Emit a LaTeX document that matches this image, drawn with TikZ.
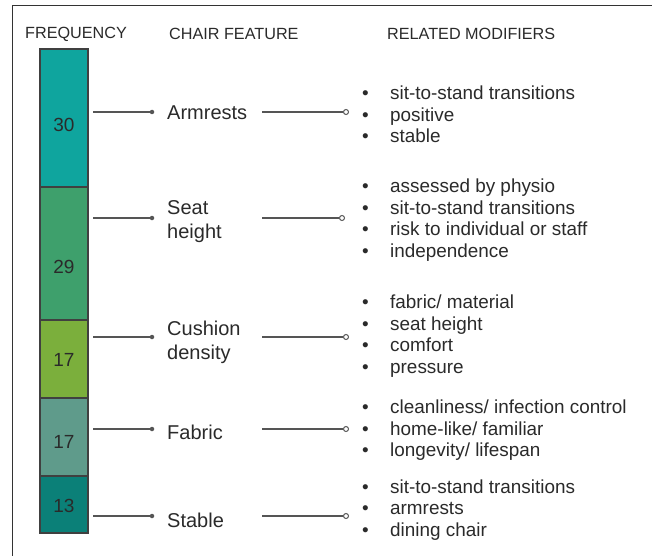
\documentclass[tikz,border=0pt]{standalone}
\usepackage{fontspec}
\setmainfont{Liberation Sans}
\definecolor{txt}{HTML}{2A2A2A}
\definecolor{ln}{HTML}{555555}
\definecolor{cA}{HTML}{0FA59E}
\definecolor{cB}{HTML}{3EA06C}
\definecolor{cC}{HTML}{7BAF3C}
\definecolor{cD}{HTML}{5F9B8B}
\definecolor{cE}{HTML}{0B8078}
\newcommand{\mbul}{\makebox[28pt][l]{•}}
\begin{document}
\begin{tikzpicture}[x=1pt,y=-1pt,
  seg/.style={draw=black!75,line width=1.4pt},
  num/.style={text=txt,font=\fontsize{19}{19}\selectfont,inner sep=0pt},
  head/.style={text=txt,font=\fontsize{16.2}{16}\selectfont,anchor=west,inner sep=0pt},
  feat/.style={text=txt,font=\fontsize{20}{24}\selectfont,anchor=west,align=left,inner sep=0pt},
  mods/.style={text=txt,font=\fontsize{18.9}{21.6}\selectfont,anchor=west,align=left,inner sep=0pt},
  conn/.style={draw=ln,line width=1.1pt},
  fdot/.style={circle,fill=ln,inner sep=0pt,minimum size=4.5pt},
  odot/.style={circle,draw=ln,fill=white,line width=1pt,inner sep=0pt,minimum size=5pt},
  frame/.style={draw=black!80,line width=1.1pt}]
\useasboundingbox (0,0) rectangle (652,556);
% frame (top and left edges)
\draw[frame] (652,5.5) -- (12.5,5.5) -- (12.5,556);
% headers
\node[head] (h1) at (25,34) {FREQUENCY};
\node[head] (h2) at (169,34) {CHAIR FEATURE};
\node[head] (h3) at (387,34) {RELATED MODIFIERS};
% bar
\fill[cA] (40,49) rectangle (88,187);
\fill[cB] (40,187) rectangle (88,320);
\fill[cC] (40,320) rectangle (88,398);
\fill[cD] (40,398) rectangle (88,476);
\fill[cE] (40,476) rectangle (88,533);
\draw[seg] (40,187) -- (88,187) (40,320) -- (88,320) (40,398) -- (88,398) (40,476) -- (88,476);
\draw[draw=black!75,line width=1.2pt] (40,49) rectangle (88,533);
\node[num] (n1) at (64,125) {30};
\node[num] (n2) at (64,267) {29};
\node[num] (n3) at (64,360) {17};
\node[num] (n4) at (64,442) {17};
\node[num] (n5) at (64,506) {13};
% features
\node[feat] (f1) at (167,113) {Armrests};
\node[feat] (f2) at (167,221.5) {Seat\\height};
\node[feat] (f3) at (167,342) {Cushion\\density};
\node[feat] (f4) at (167,432) {Fabric};
\node[feat] (f5) at (167,520) {Stable};
% connectors
\coordinate (a1) at (93,112); \node[fdot] (d1) at (152,112) {};
\coordinate (a2) at (93,218); \node[fdot] (d2) at (152,218) {};
\coordinate (a3) at (93,337); \node[fdot] (d3) at (152,337) {};
\coordinate (a4) at (93,429); \node[fdot] (d4) at (152,429) {};
\coordinate (a5) at (93,516); \node[fdot] (d5) at (152,516) {};
\coordinate (b1) at (262,112); \node[odot] (o1) at (346,112) {};
\coordinate (b2) at (262,218); \node[odot] (o2) at (342,218) {};
\coordinate (b3) at (262,337); \node[odot] (o3) at (346,337) {};
\coordinate (b4) at (262,429); \node[odot] (o4) at (346,429) {};
\coordinate (b5) at (262,516); \node[odot] (o5) at (346,516) {};
\foreach \i in {1,...,5}{
  \draw[conn] (a\i) -- (d\i);
  \draw[conn] (b\i) -- (o\i);
}
% modifiers
\node[mods] (m1) at (362,114.5) {\mbul sit-to-stand transitions\\\mbul positive\\\mbul stable};
\node[mods] (m2) at (362,220) {\mbul assessed by physio\\\mbul sit-to-stand transitions\\\mbul risk to individual or staff\\\mbul independence};
\node[mods] (m3) at (362,336) {\mbul fabric/ material\\\mbul seat height\\\mbul comfort\\\mbul pressure};
\node[mods] (m4) at (362,430.5) {\mbul cleanliness/ infection control\\\mbul home-like/ familiar\\\mbul longevity/ lifespan};
\node[mods] (m5) at (362,510) {\mbul sit-to-stand transitions\\\mbul armrests\\\mbul dining chair};
\end{tikzpicture}
\end{document}
